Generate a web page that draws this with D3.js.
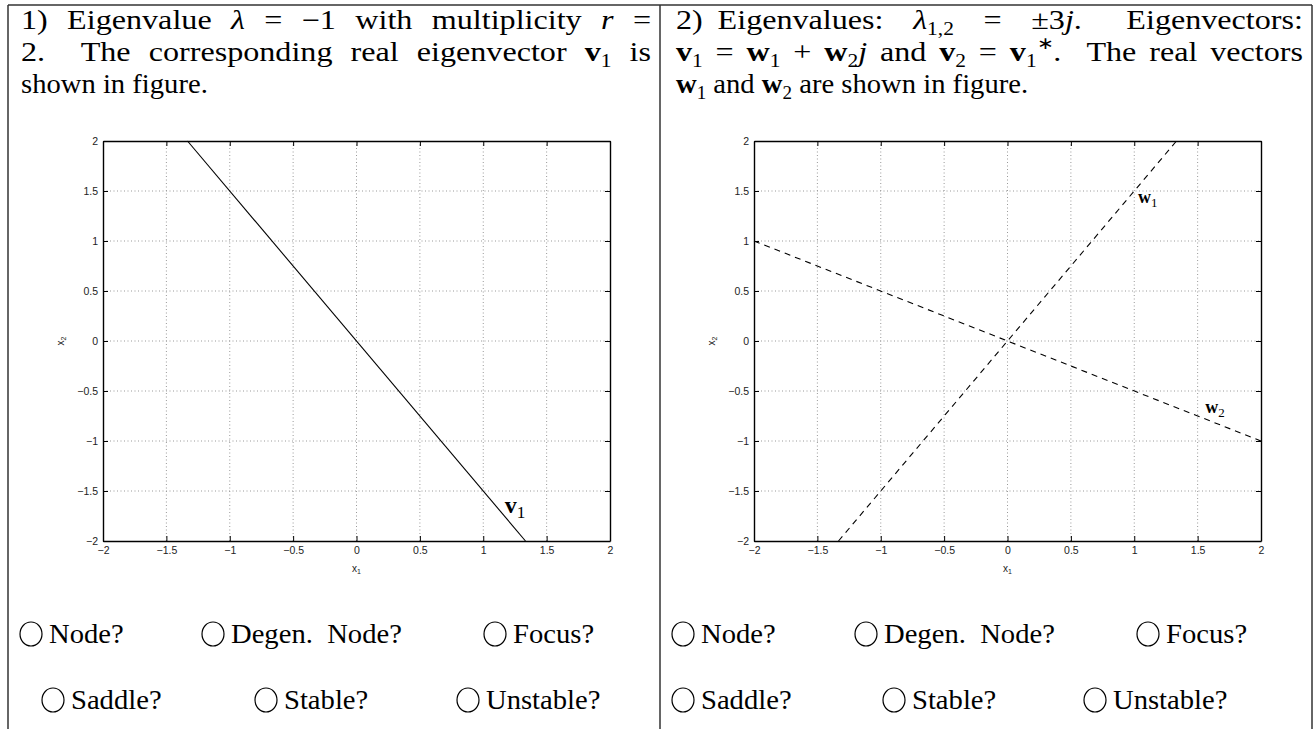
<!DOCTYPE html>
<html>
<head>
<meta charset="utf-8">
<script src="https://cdn.jsdelivr.net/npm/d3@7"></script>
<style>
  body { margin: 0; background: #fff; }
  text { white-space: pre; }
</style>
</head>
<body>
<div id="fig"></div>
<script>
const width = 1316;
const height = 729;

// axis limits and ticks (same for both plots)
const xDomain = [-2, 2];
const yDomain = [-2, 2];
const tickValues = [-2, -1.5, -1, -0.5, 0, 0.5, 1, 1.5, 2];

// plot 1: real eigenvector v1
const v1X = [-1.3333, 1.3333];
const v1Y = [2, -2];
// plot 2: real vectors w1 and w2
const w1X = [-1.3333, 1.3333];
const w1Y = [-2, 2];
const w2X = [-2, 2];
const w2Y = [1, -1];

// where the vector names sit, in data units
const v1Label = [1.17, -1.72];
const w1Label = [1.03, 1.38];
const w2Label = [1.56, -0.72];

// answer boxes
const choicesRow1 = ['Node?', 'Degen.  Node?', 'Focus?'];
const choicesRow2 = ['Saddle?', 'Stable?', 'Unstable?'];

// header text, as [string, style] pieces
const headLeft = [
  [['1) Eigenvalue '], ['λ', 'i'], [' = −1 with multiplicity '], ['r', 'i'], [' =']],
  [['2.  The corresponding real eigenvector '], ['v', 'b'], ['1', 'sub'], [' is']],
  [['shown in figure.']]
];
const headRight = [
  [['2) Eigenvalues:  '], ['λ', 'i'], ['1,2', 'sub'], ['  =  ±3'], ['j', 'i'], ['.   Eigenvectors:']],
  [['v', 'b'], ['1', 'sub'], [' = '], ['w', 'b'], ['1', 'sub'], [' + '], ['w', 'b'], ['2', 'sub'], ['j', 'i'],
   [' and '], ['v', 'b'], ['2', 'sub'], [' = '], ['v', 'b'], ['1', 'sub'], ['∗', 'sup'], ['.  The real vectors']],
  [['w', 'b'], ['1', 'sub'], [' and '], ['w', 'b'], ['2', 'sub'], [' are shown in figure.']]
];

const plotW = 507;
const plotTop = 141;
const plotBottom = 541;
const stretch = 1.06;
const maxStretch = 1.19;
const serif = '"Liberation Serif", "Times New Roman", serif';
const sans = '"Liberation Sans", Arial, Helvetica, sans-serif';

const svg = d3.select('#fig')
  .append('svg')
  .attr('width', width)
  .attr('height', height)
  .style('font-family', serif);

// table rules
const rules = svg.append('g').attr('stroke', '#333').attr('stroke-width', 1.5);
rules.append('line').attr('x1', 8).attr('x2', 1312).attr('y1', 5).attr('y2', 5);
[8, 660, 1312].forEach(function(x) {
  rules.append('line').attr('x1', x).attr('x2', x).attr('y1', 5).attr('y2', height);
});

function writeLine(segs, x, y, fit) {
  const t = svg.append('text').attr('x', x).attr('y', y).attr('font-size', 27);
  let shift = 0;
  let spaces = 0;
  segs.forEach(function(seg) {
    const s = seg[0], kind = seg[1];
    const sp = t.append('tspan').text(s);
    let target = 0;
    if (kind === 'i') sp.attr('font-style', 'italic');
    if (kind === 'b') sp.attr('font-weight', 'bold');
    if (kind === 'sub') { target = 6; sp.attr('font-size', 18); }
    if (kind === 'sup') { target = -12; sp.attr('font-size', 17); }
    if (target !== shift) { sp.attr('dy', target - shift); shift = target; }
    spaces += (s.match(/ /g) || []).length;
  });
  const natural = t.node().getComputedTextLength();
  if (fit) {
    // justify: widen glyphs up to a limit, the rest goes into word gaps
    const g = Math.min(maxStretch, fit / natural);
    const ws = Math.max(0, (fit / g - natural) / spaces);
    t.style('word-spacing', ws + 'px');
    t.attr('textLength', fit).attr('lengthAdjust', 'spacingAndGlyphs');
  } else {
    t.attr('textLength', natural * stretch).attr('lengthAdjust', 'spacingAndGlyphs');
  }
}

const baselines = [29, 61, 93];
headLeft.forEach(function(line, i) {
  writeLine(line, 21, baselines[i], i < 2 ? 630 : null);
});
headRight.forEach(function(line, i) {
  writeLine(line, 676, baselines[i], i < 2 ? 627 : null);
});

function vecLabel(g, name, sub, pos, x, y, size) {
  const t = g.append('text')
    .attr('x', x(pos[0]))
    .attr('y', y(pos[1]))
    .attr('font-size', size);
  t.append('tspan').attr('font-weight', 'bold').text(name);
  t.append('tspan').attr('font-size', size * 0.72).attr('dy', size * 0.2).text(sub);
}

function drawPanel(x0, series) {
  const x = d3.scaleLinear().domain(xDomain).range([x0, x0 + plotW]);
  const y = d3.scaleLinear().domain(yDomain).range([plotBottom, plotTop]);
  const g = svg.append('g');
  const fmt = d3.format('~g');

  // dotted grid
  const inner = tickValues.slice(1, -1);
  const grid = g.append('g')
    .attr('stroke', '#999')
    .attr('stroke-width', 1)
    .attr('stroke-dasharray', '1,2.5');
  grid.selectAll('line.gx').data(inner).join('line')
    .attr('class', 'gx')
    .attr('x1', d => x(d)).attr('x2', d => x(d))
    .attr('y1', plotTop).attr('y2', plotBottom);
  grid.selectAll('line.gy').data(inner).join('line')
    .attr('class', 'gy')
    .attr('y1', d => y(d)).attr('y2', d => y(d))
    .attr('x1', x0).attr('x2', x0 + plotW);

  // vectors
  const line = d3.line().x(d => x(d[0])).y(d => y(d[1]));
  series.forEach(function(s) {
    const pts = s.xs.map((v, i) => [v, s.ys[i]]);
    g.append('path')
      .datum(pts)
      .attr('d', line)
      .attr('fill', 'none')
      .attr('stroke', '#000')
      .attr('stroke-width', 1.1)
      .attr('stroke-dasharray', s.dashed ? '6,5' : null);
    vecLabel(g, s.name, s.sub, s.at, x, y, s.size);
  });

  // axes, ticks inside like matlab
  const bottom = g.append('g')
    .attr('transform', 'translate(0,' + plotBottom + ')')
    .call(d3.axisBottom(x).tickValues(tickValues).tickFormat(fmt).tickSize(-5).tickSizeOuter(0).tickPadding(6));
  const left = g.append('g')
    .attr('transform', 'translate(' + x0 + ',0)')
    .call(d3.axisLeft(y).tickValues(tickValues).tickFormat(fmt).tickSize(-5).tickSizeOuter(0).tickPadding(5));
  g.append('g')
    .attr('transform', 'translate(0,' + plotTop + ')')
    .call(d3.axisTop(x).tickValues(tickValues).tickSize(-5).tickSizeOuter(0).tickFormat(''));
  g.append('g')
    .attr('transform', 'translate(' + (x0 + plotW) + ',0)')
    .call(d3.axisRight(y).tickValues(tickValues).tickSize(-5).tickSizeOuter(0).tickFormat(''));

  g.selectAll('.domain').attr('stroke', '#000').attr('stroke-width', 1.4);
  g.selectAll('.tick line').attr('stroke', '#000');
  [bottom, left].forEach(function(a) {
    a.attr('font-family', sans).attr('font-size', 10.5);
    a.selectAll('text').attr('fill', '#222');
  });

  // axis names
  const xl = g.append('text')
    .attr('x', x(0))
    .attr('y', plotBottom + 31)
    .attr('text-anchor', 'middle')
    .attr('font-family', sans)
    .attr('font-size', 10)
    .attr('fill', '#222');
  xl.append('tspan').text('x');
  xl.append('tspan').attr('font-size', 7).attr('dy', 2).text('1');

  const yl = g.append('text')
    .attr('transform', 'translate(' + (x0 - 39) + ',' + y(0) + ') rotate(-90)')
    .attr('text-anchor', 'middle')
    .attr('font-family', sans)
    .attr('font-size', 10)
    .attr('fill', '#222');
  yl.append('tspan').text('x');
  yl.append('tspan').attr('font-size', 7).attr('dy', 2).text('2');
}

drawPanel(103, [
  {xs: v1X, ys: v1Y, dashed: false, name: 'v', sub: '1', at: v1Label, size: 24}
]);
drawPanel(754, [
  {xs: w1X, ys: w1Y, dashed: true, name: 'w', sub: '1', at: w1Label, size: 18},
  {xs: w2X, ys: w2Y, dashed: true, name: 'w', sub: '2', at: w2Label, size: 18}
]);

// answer choices: circle centres per panel and row
const rowY = [634, 700];
function drawChoices(labels, centres, cy) {
  labels.forEach(function(lab, i) {
    svg.append('ellipse')
      .attr('cx', centres[i]).attr('cy', cy)
      .attr('rx', 11).attr('ry', 12)
      .attr('fill', 'none').attr('stroke', '#000').attr('stroke-width', 1.2);
    const t = svg.append('text')
      .attr('x', centres[i] + 18)
      .attr('y', cy + 9)
      .attr('font-size', 27)
      .text(lab);
    const natural = t.node().getComputedTextLength();
    t.attr('textLength', natural * stretch).attr('lengthAdjust', 'spacingAndGlyphs');
  });
}
drawChoices(choicesRow1, [31, 213, 495], rowY[0]);
drawChoices(choicesRow2, [53, 266, 468], rowY[1]);
drawChoices(choicesRow1, [683, 866, 1148], rowY[0]);
drawChoices(choicesRow2, [683, 894, 1095], rowY[1]);
</script>
</body>
</html>
